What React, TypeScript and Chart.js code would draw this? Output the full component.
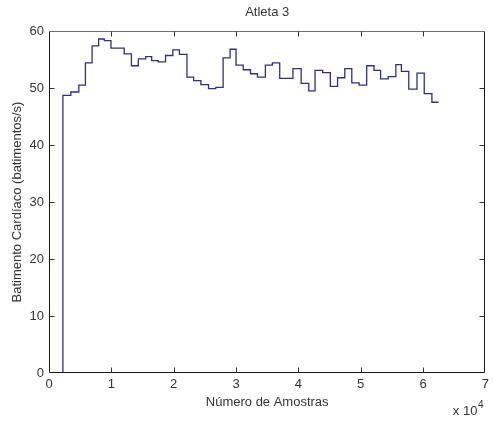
import { useEffect, useRef } from "react";
import { Chart, registerables } from "chart.js";

Chart.register(...registerables);

// Window boundaries (sample index) of each heart-rate estimate
const sampleEdges = [
  2230, 3500, 4780, 5840, 6910, 7960, 8870, 9940, 10990, 12060,
  13220, 14330, 15510, 16470, 17520, 18700, 19860, 20920, 22130, 23200,
  24360, 25590, 26750, 27930, 29050, 30000, 31160, 32330, 33440, 34710,
  35830, 37010, 38060, 39130, 40450, 41670, 42680, 43900, 45130, 46290,
  47450, 48570, 49750, 50960, 52140, 53190, 54410, 55640, 56530, 57710,
  59030, 60190, 61420, 62490,
];

// Heart rate for each window (batimentos/s)
const heartRate = [
  48.7, 49.3, 50.5, 54.4, 57.4, 58.6, 58.3, 57.0, 57.0, 56.0,
  53.9, 55.1, 55.5, 54.8, 54.6, 55.7, 56.7, 55.9, 51.9, 51.3,
  50.6, 49.9, 50.1, 55.3, 56.8, 54.0, 53.2, 52.5, 51.9, 54.0,
  54.4, 51.7, 51.7, 53.4, 50.8, 49.5, 53.1, 52.7, 50.3, 51.8,
  53.4, 50.9, 50.5, 53.9, 53.1, 51.6, 52.0, 54.1, 52.9, 49.8,
  52.6, 49.0, 47.5,
];

const xTickValues = [0, 1, 2, 3, 4, 5, 6, 7]; // in units of 10^4 samples
const yTickValues = [0, 10, 20, 30, 40, 50, 60];
const xExponent = 4;

const chartTitle = "Atleta 3";
const xAxisTitle = "Número de Amostras";
const yAxisTitle = "Batimento Cardíaco (batimentos/s)";

const FONT = "'Liberation Sans', Arial, sans-serif";
const FONT_SIZE = 13;
const TEXT = "#333333";
const LINE = "#2e2e8e";

// Box around the plot area with inward tick marks on all four sides
const axesBox = {
  id: "axesBox",
  afterDatasetsDraw(chart: any) {
    const { ctx, chartArea, scales } = chart;
    const l = Math.round(chartArea.left) + 0.5;
    const r = Math.round(chartArea.right) - 0.5;
    const t = Math.round(chartArea.top) + 0.5;
    const b = Math.round(chartArea.bottom) - 0.5;
    const tick = 5;
    ctx.save();
    ctx.lineWidth = 1;

    ctx.strokeStyle = "#707070";
    ctx.beginPath();
    ctx.moveTo(l, t);
    ctx.lineTo(r, t);
    ctx.stroke();

    ctx.strokeStyle = "#1a1a1a";
    ctx.beginPath();
    ctx.moveTo(l, t);
    ctx.lineTo(l, b);
    ctx.lineTo(r, b);
    ctx.lineTo(r, t);
    ctx.stroke();

    ctx.strokeStyle = "#333";
    ctx.beginPath();
    xTickValues.slice(1, -1).forEach((v) => {
      const x = Math.round(scales.x.getPixelForValue(v * 10 ** xExponent)) + 0.5;
      ctx.moveTo(x, b);
      ctx.lineTo(x, b - tick);
      ctx.moveTo(x, t);
      ctx.lineTo(x, t + tick);
    });
    yTickValues.slice(1, -1).forEach((v) => {
      const y = Math.round(scales.y.getPixelForValue(v)) + 0.5;
      ctx.moveTo(l, y);
      ctx.lineTo(l + tick, y);
      ctx.moveTo(r, y);
      ctx.lineTo(r - tick, y);
    });
    ctx.stroke();
    ctx.restore();
  },
};

// "x 10^4" multiplier under the right end of the x axis
const exponentLabel = {
  id: "exponentLabel",
  afterDraw(chart: any) {
    const { ctx, chartArea } = chart;
    const xRight = chartArea.right - 8;
    const y = chartArea.bottom + 38;
    ctx.save();
    ctx.fillStyle = TEXT;
    ctx.textBaseline = "middle";
    ctx.textAlign = "right";
    ctx.font = `${FONT_SIZE}px ${FONT}`;
    ctx.fillText("x 10", xRight, y);
    ctx.textAlign = "left";
    ctx.font = `10px ${FONT}`;
    ctx.fillText(String(xExponent), xRight + 0.5, y - 6);
    ctx.restore();
  },
};

export default function App() {
  const canvasRef = useRef<HTMLCanvasElement | null>(null);

  useEffect(() => {
    const canvas = canvasRef.current;
    if (!canvas) return;

    const points = [
      { x: sampleEdges[0], y: 0 },
      ...heartRate.map((v, i) => ({ x: sampleEdges[i], y: v })),
      { x: sampleEdges[sampleEdges.length - 1], y: heartRate[heartRate.length - 1] },
    ];

    const chart = new Chart(canvas, {
      type: "line",
      data: {
        datasets: [
          {
            data: points,
            borderColor: LINE,
            borderWidth: 1.3,
            pointRadius: 0,
            stepped: true,
            fill: false,
          },
        ],
      },
      plugins: [axesBox, exponentLabel],
      options: {
        animation: false,
        responsive: false,
        devicePixelRatio: 1,
        layout: { padding: { left: 0, right: 4, top: 0, bottom: 0 } },
        plugins: {
          legend: { display: false },
          tooltip: { enabled: false },
          title: {
            display: true,
            text: chartTitle,
            fullSize: false,
            color: TEXT,
            font: { family: FONT, size: FONT_SIZE, weight: "normal" },
            padding: { top: 4.2, bottom: 11.2 },
          },
        },
        scales: {
          x: {
            type: "linear",
            min: xTickValues[0] * 10 ** xExponent,
            max: xTickValues[xTickValues.length - 1] * 10 ** xExponent,
            afterBuildTicks: (scale: any) => {
              scale.ticks = xTickValues.map((v) => ({ value: v * 10 ** xExponent }));
            },
            afterFit: (scale: any) => {
              scale.height = 48;
            },
            grid: { display: false, drawTicks: false },
            border: { display: false },
            ticks: {
              color: TEXT,
              padding: 4,
              maxRotation: 0,
              font: { family: FONT, size: FONT_SIZE },
              callback: (v: any) => String(Number(v) / 10 ** xExponent),
            },
            title: {
              display: true,
              text: xAxisTitle,
              color: TEXT,
              font: { family: FONT, size: FONT_SIZE },
              padding: { top: 0, bottom: 11.2 },
            },
          },
          y: {
            type: "linear",
            min: yTickValues[0],
            max: yTickValues[yTickValues.length - 1],
            afterBuildTicks: (scale: any) => {
              scale.ticks = yTickValues.map((v) => ({ value: v }));
            },
            afterFit: (scale: any) => {
              scale.width = 49;
            },
            grid: { display: false, drawTicks: false },
            border: { display: false },
            ticks: {
              color: TEXT,
              padding: 5,
              font: { family: FONT, size: FONT_SIZE },
            },
            title: {
              display: true,
              text: yAxisTitle,
              color: TEXT,
              font: { family: FONT, size: FONT_SIZE },
              padding: { top: 9.2, bottom: 0 },
            },
          },
        },
      },
    });

    return () => chart.destroy();
  }, []);

  return (
    <div style={{ position: "absolute", left: 0, top: 0, width: 493, height: 421, background: "#fff" }}>
      <canvas ref={canvasRef} width={493} height={421} style={{ display: "block" }} />
    </div>
  );
}
